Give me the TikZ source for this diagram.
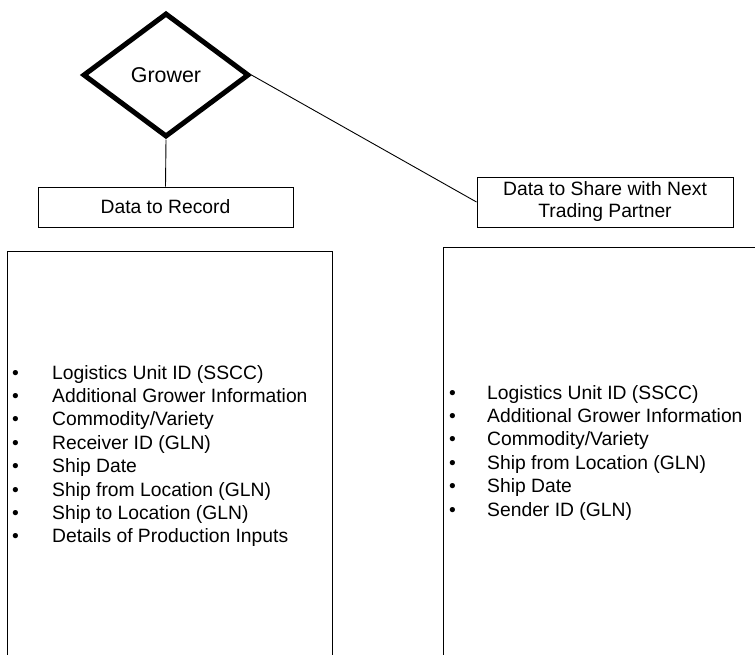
\documentclass[tikz,border=0pt]{standalone}
\usepackage{fontspec}
\setmainfont{Liberation Sans}
\usetikzlibrary{shapes.geometric,positioning}
\tikzset{
  role/.style={diamond,draw=black,line width=5pt,minimum width=166pt,minimum height=124pt,inner sep=0pt,font=\fontsize{21.4}{25}\selectfont},
  heading/.style={draw=black,line width=1pt,align=center,inner sep=0pt,font=\fontsize{19.3}{22}\selectfont},
  listbox/.style={draw=black,line width=1pt,anchor=north west,inner sep=0pt},
  item/.style={anchor=base west,inner sep=0pt,font=\fontsize{19.3}{23}\selectfont},
  link/.style={draw=black,line width=0.9pt}
}

\begin{document}
\begin{tikzpicture}[x=1pt,y=-1pt]
  \useasboundingbox (0,0) rectangle (755,654);
  \clip (0,0) rectangle (755,654);
  \node[role] (grower) at (166,75) {Grower};
  \node[heading,minimum width=255pt,minimum height=40pt] (record) at (165.5,207) {Data to Record};
  \node[heading,minimum width=256pt,minimum height=50pt] (share) at (605,202) {Data to Share with Next\\Trading Partner};
  \draw[link] (grower.south) -- (record.north);
  \draw[link] (grower.east) -- (share.west);
  % the two lists
  \node[listbox,minimum width=325pt,minimum height=450pt] (recordlist) at (7,251) {};
  \node[listbox,minimum width=330pt,minimum height=450pt] (sharelist) at (443,247) {};
  \foreach \txt [count=\i] in {Logistics Unit ID (SSCC),Additional Grower Information,Commodity/Variety,Receiver ID (GLN),Ship Date,Ship from Location (GLN),Ship to Location (GLN),Details of Production Inputs}
    \node[item] (rec\i) at (12,379+23.4*\i-23.4) {\makebox[40pt][l]{\textbullet}\txt};
  \foreach \txt [count=\i] in {Logistics Unit ID (SSCC),Additional Grower Information,Commodity/Variety,Ship from Location (GLN),Ship Date,Sender ID (GLN)}
    \node[item] (shr\i) at (449,399+23.4*\i-23.4) {\makebox[38pt][l]{\textbullet}\txt};
\end{tikzpicture}
\end{document}
